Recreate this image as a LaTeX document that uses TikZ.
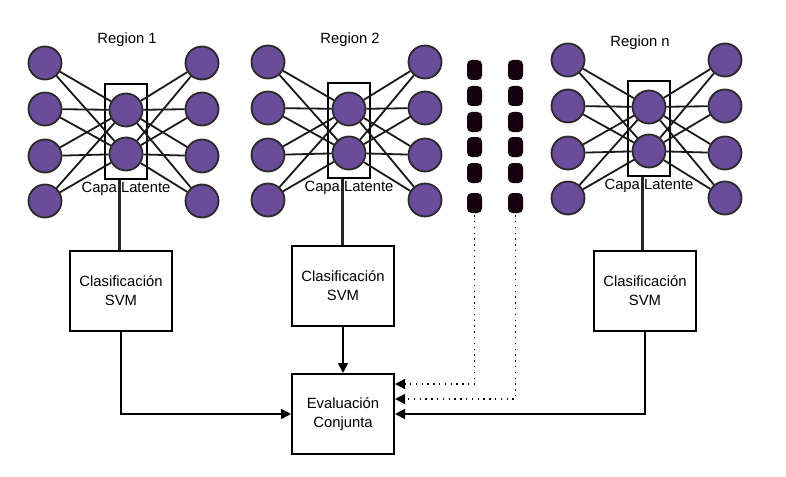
\documentclass[tikz,border=0pt]{standalone}
\usepackage{fontspec}
\setmainfont{Liberation Sans}
\usetikzlibrary{arrows.meta}
\definecolor{neuronfill}{HTML}{6B4C9A}
\definecolor{neuronline}{HTML}{2A2A2A}
\definecolor{dotfill}{HTML}{14000F}
\tikzset{
  neuron/.style={circle,draw=neuronline,line width=1.8pt,fill=neuronfill,minimum size=33pt,inner sep=0pt},
  latbox/.style={draw=black,line width=1.8pt,minimum width=42pt,minimum height=95pt,inner sep=0pt},
  captext/.style={font=\fontsize{14.8}{17}\selectfont,inner sep=0pt},
  regtext/.style={font=\fontsize{14.8}{17}\selectfont,inner sep=0pt},
  procbox/.style={draw=black,line width=2pt,minimum width=102pt,minimum height=80pt,align=center,inner sep=0pt,font=\fontsize{14.8}{19}\selectfont},
  netedge/.style={line width=1.8pt,draw=black!90},
  stem/.style={line width=2.3pt,draw=black!85},
  flow/.style={line width=1.6pt,-{Triangle[length=10pt,width=10pt]}},
  dotflow/.style={line width=1.3pt,dash pattern=on 1.3pt off 4.5pt,-{Triangle[length=10pt,width=10pt]}},
  gapdot/.style={rectangle,rounded corners=4.5pt,fill=dotfill,minimum width=15pt,minimum height=20pt,inner sep=0pt}
}
\newcommand\netregion[2]{%
  \begin{scope}[shift={#2}]
    \foreach \i/\y in {1/0,2/46,3/93,4/138}{%
      \node[neuron] (#1L\i) at (0,\y) {};
      \node[neuron] (#1R\i) at (157,\y) {};
    }
    \node[neuron] (#1M1) at (81,47) {};
    \node[neuron] (#1M2) at (81,91) {};
    \node[latbox] (#1box) at (81,68.5) {};
    \node[captext] (#1cap) at (81,126) {Capa Latente};
  \end{scope}
  \foreach \i in {1,2,3,4}{%
    \foreach \j in {1,2}{%
      \draw[netedge] (#1L\i) -- (#1M\j);
      \draw[netedge] (#1M\j) -- (#1R\i);
    }
  }
}
\begin{document}
\begin{tikzpicture}[x=1pt,y=-1pt]
\useasboundingbox (0,0) rectangle (786,476);
\fill[white] (0,0) rectangle (786,476);

\netregion{a}{(45,63)}
\netregion{b}{(268,62)}
\netregion{c}{(568,60)}

\node[regtext] (ta) at (127,40) {Region 1};
\node[regtext] (tb) at (350,40) {Region 2};
\node[regtext] (tc) at (640,43) {Region n};

% gap dots
\foreach \k/\y in {1/70,2/96,3/122,4/147,5/173,6/203}{%
  \node[gapdot] (dl\k) at (474.5,\y) {};
  \node[gapdot] (dr\k) at (515.5,\y) {};
}

\node[procbox] (svma) at (121,291) {Clasificación\\SVM};
\node[procbox] (svmb) at (343,286) {Clasificación\\SVM};
\node[procbox] (svmc) at (645,291) {Clasificación\\SVM};
\node[procbox] (eval) at (343,414) {Evaluación\\Conjunta};

\draw[stem] ([xshift=-6.5pt]abox.south) -- ([xshift=-6.5pt]abox.south |- svma.north);
\draw[stem] ([xshift=-6.5pt]bbox.south) -- ([xshift=-6.5pt]bbox.south |- svmb.north);
\draw[stem] ([xshift=-6.5pt]cbox.south) -- ([xshift=-6.5pt]cbox.south |- svmc.north);

\draw[flow] (svma.south) |- (eval.west);
\draw[flow] (svmb.south) -- (eval.north);
\draw[flow] (svmc.south) |- (eval.east);
\draw[dotflow] ([yshift=-2pt]dl6.south) |- ([yshift=30pt]eval.east);
\draw[dotflow] ([yshift=-2pt]dr6.south) |- ([yshift=15pt]eval.east);
\end{tikzpicture}
\end{document}
